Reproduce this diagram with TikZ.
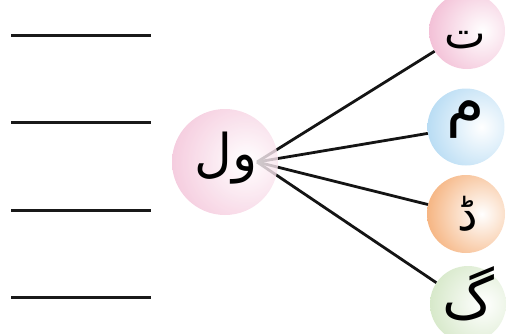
\documentclass[tikz,border=0pt]{standalone}
\usepackage{fontspec}
\newfontfamily\ur[Script=Arabic]{DejaVu Sans}
\TeXXeTstate=1
\definecolor{pk}{RGB}{242,188,212}
\definecolor{bl}{RGB}{180,218,243}
\definecolor{og}{RGB}{245,176,122}
\definecolor{gr}{RGB}{212,231,198}
\tikzset{
  ball/.style 2 args={circle, inner sep=0pt, minimum size=#2, draw=none,
    path picture={\shade[inner color=white, outer color=#1]
      ([xshift=0.4*#2/2]path picture bounding box.center) circle (1.5*#2/2);}},
  blank/.style={line width=3pt, draw=black!90},
  link/.style={line width=2.8pt, draw=black!92},
  urtext/.style={inner sep=0pt, font={\ur\fontsize{#1}{#1}\selectfont}}
}
\begin{document}
\begin{tikzpicture}[x=1pt,y=-1pt]
\useasboundingbox (0,0) rectangle (506,333);
\clip (0,0) rectangle (506,333);
% answer blanks
\coordinate (a1) at (11,35);  \coordinate (b1) at (151,35);
\coordinate (a2) at (11,122); \coordinate (b2) at (151,122);
\coordinate (a3) at (11,210); \coordinate (b3) at (151,210);
\coordinate (a4) at (11,297); \coordinate (b4) at (151,297);
\draw[blank] (a1) -- (b1);
\draw[blank] (a2) -- (b2);
\draw[blank] (a3) -- (b3);
\draw[blank] (a4) -- (b4);
% right circles
\node[ball={pk}{76pt}] (t) at (467,31) {};
\node[ball={bl}{77pt}] (m) at (466,127) {};
\node[ball={og}{78pt}] (d) at (466,214) {};
\node[ball={gr}{76pt}] (g) at (468,304) {};
% connectors
\coordinate (o) at (257,162);
\draw[link] (o) -- (t);
\draw[link] (o) -- (m);
\draw[link] (o) -- (d);
\draw[link] (o) -- (g);
% centre circle over the connectors
\node[ball={pk}{106pt}, fill opacity=0.8] (w) at (225,162) {};
% letters
\node[urtext=52] (wl) at (226,158) {\beginR ول\endR};
\node[urtext=44] (tl) at (465,40) {\beginR ت\endR};
\node[urtext=62] (ml) at (466,120) {\beginR م\endR};
\node[urtext=46] (dl) at (468,214) {\beginR ڈ\endR};
\node[urtext=58] (gl) at (468,294) {\beginR گ\endR};
\end{tikzpicture}
\end{document}
